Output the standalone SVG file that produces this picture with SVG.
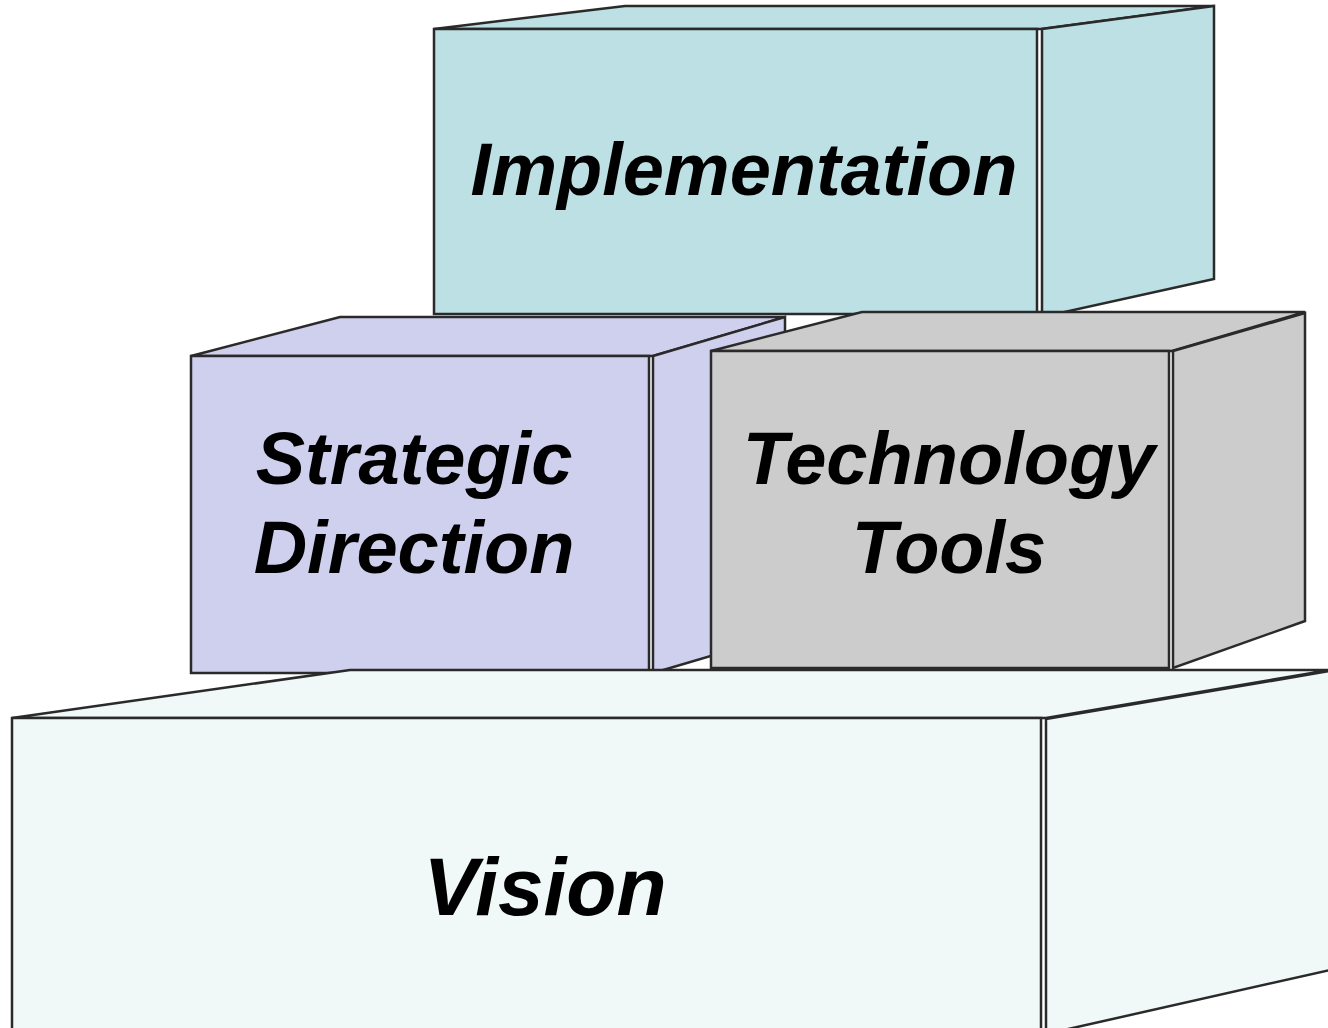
<svg xmlns="http://www.w3.org/2000/svg" width="1328" height="1028" viewBox="0 0 1328 1028">
<style>
.e{stroke:#2a2a2a;stroke-width:2.5;stroke-linejoin:miter}
.t{font-family:"Liberation Sans",Arial,sans-serif;font-weight:bold;font-style:italic;font-size:74px;fill:#000;text-anchor:middle}
</style>
<rect width="1328" height="1028" fill="#fff"/>
<g id="implementation" fill="#bce0e3">
<polygon class="e" points="434,29 625,6 1214,6 1041,29"/>
<polygon class="e" points="1042,29 1214,6 1214,279 1042,317"/>
<rect class="e" x="434" y="29" width="603" height="285"/>
<text class="t" x="744" y="195">Implementation</text>
</g>
<g id="strategic" fill="#cfcfee">
<polygon class="e" points="191,356 340,317 785,317 653,356"/>
<polygon class="e" points="653,356 785,317 785,634 653,673"/>
<rect class="e" x="191" y="356" width="458" height="317"/>
<text class="t" x="414" y="484">Strategic</text>
<text class="t" x="414" y="573">Direction</text>
</g>
<g id="technology" fill="#cccccc">
<polygon class="e" points="711,351 862,312 1305,312 1172,351"/>
<polygon class="e" points="1173,351 1305,313 1305,621 1173,668"/>
<rect class="e" x="711" y="351" width="458" height="317"/>
<text class="t" x="949" y="484">Technology</text>
<text class="t" x="949" y="573">Tools</text>
</g>
<g id="vision" fill="#f0f8f8">
<polygon class="e" points="12,718 350,670 1330,670 1046,718"/>
<polygon class="e" points="1046,719 1330,671 1330,970 1046,1034"/>
<rect class="e" x="12" y="718" width="1029" height="320"/>
<text class="t" x="545" y="915" style="font-size:82px">Vision</text>
</g>
<g id="connectors"/>
</svg>
